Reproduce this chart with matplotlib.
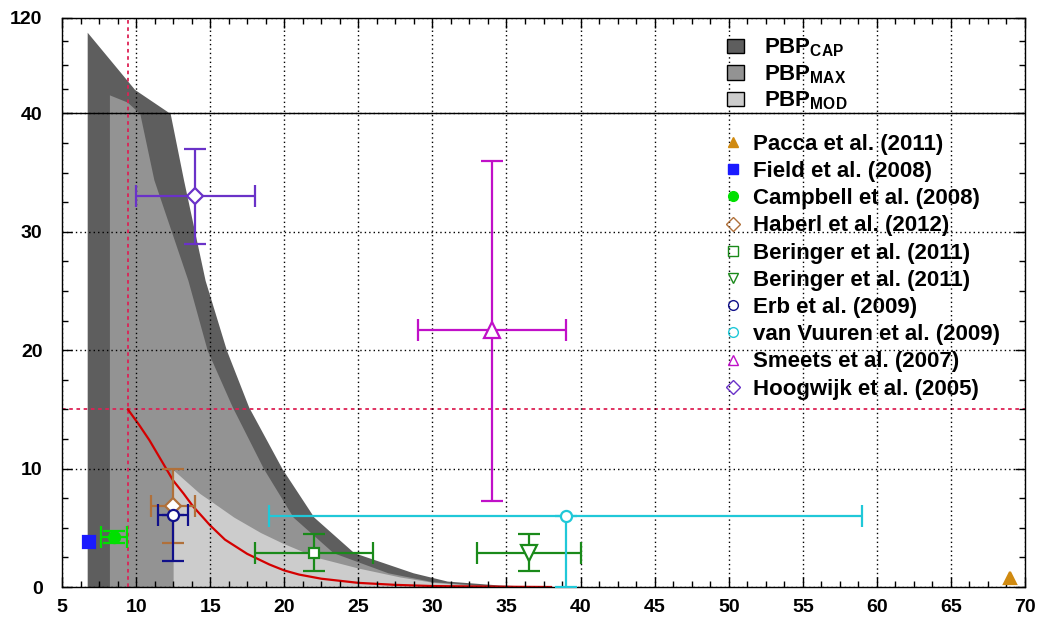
import numpy as np
import matplotlib
matplotlib.use('Agg')
import matplotlib.pyplot as plt
from matplotlib.patches import Patch
from matplotlib.lines import Line2D
from matplotlib.font_manager import FontProperties

plt.rcParams['font.family'] = ['Liberation Sans', 'DejaVu Sans']
plt.rcParams['font.weight'] = 'bold'
plt.rcParams['mathtext.fontset'] = 'custom'
plt.rcParams['mathtext.bf'] = 'Liberation Sans:bold'
plt.rcParams['mathtext.rm'] = 'Liberation Sans:bold'
plt.rcParams['mathtext.it'] = 'Liberation Sans:bold:italic'

# ---------------- data ----------------
# PBP regions (outlines)
cap_x = [6.7, 6.7, 9.9, 12.3, 13.2, 14.66, 16.1, 17.6, 19.85, 22.0, 24.7, 28.7, 31.0, 34.5, 38.5]
cap_y = [0, 107.7, 60, 40, 34.4, 25.9, 20, 15.2, 10, 5.9, 2.9, 1.2, 0.5, 0.17, 0]
max_x = [8.2, 8.2, 9.4, 10.25, 11.2, 13.5, 14.8, 16.5, 18.6, 20.6, 23.3, 27.0, 30.0, 35.0]
max_y = [0, 55.5, 49.5, 40, 34.4, 25.9, 20, 15.2, 10, 5.9, 2.9, 1.2, 0.45, 0]
mod_x = [12.5, 12.5, 14.3, 15.0, 16.6, 18.4, 19.9, 22.2, 25.0, 27.8, 30.0, 34.0]
mod_y = [0, 9.9, 7.9, 7.3, 5.9, 4.6, 3.7, 2.5, 1.6, 0.85, 0.4, 0]

# red curve
red_x = [9.45, 10.2, 10.9, 11.7, 12.5, 13.2, 13.85, 14.5, 15.0, 16.0, 17.5, 19.0,
         20.0, 21.0, 22.5, 25.0, 27.5, 30.0, 35.0, 38.0]
red_y = [15.0, 13.7, 12.4, 10.7, 9.0, 7.9, 6.8, 5.9, 5.2, 4.0, 2.8, 1.9,
         1.4, 1.05, 0.7, 0.35, 0.18, 0.08, 0.02, 0.0]
ref_x = 9.45
ref_y = 15.0

# studies: x, y, xerr(low, high), yerr(low, high)
labels = ['Pacca et al. (2011)', 'Field et al. (2008)', 'Campbell et al. (2008)',
          'Haberl et al. (2012)', 'Beringer et al. (2011)', 'Beringer et al. (2011)',
          'Erb et al. (2009)', 'van Vuuren et al. (2009)', 'Smeets et al. (2007)',
          'Hoogwijk et al. (2005)']
pts_x = [69.0, 6.85, 8.5, 12.5, 22.0, 36.5, 12.5, 39.0, 34.0, 14.0]
pts_y = [0.75, 3.8, 4.2, 6.85, 2.9, 2.9, 6.1, 6.0, 21.7, 33.0]
xerr_lo = [0, 0, 0.9, 1.5, 4.0, 3.5, 1.0, 20.0, 5.0, 4.0]
xerr_hi = [0, 0, 0.9, 1.5, 4.0, 3.5, 1.0, 20.0, 5.0, 4.0]
yerr_lo = [0, 0, 0.5, 3.1, 1.55, 1.55, 3.9, 6.0, 14.4, 4.0]
yerr_hi = [0, 0, 0.5, 3.1, 1.6, 1.6, 0.0, 0.0, 14.3, 4.0]
colors = ['#d08a10', '#1a1aff', '#00e000', '#b0703a', '#1a8a1a', '#1a8a1a',
          '#10108a', '#20c8d8', '#c010c8', '#6a32c8']
markers = ['^', 's', 'o', 'D', 's', 'v', 'o', 'o', '^', 'D']
filled = [True, True, True, False, False, False, False, False, False, False]
msizes = [8.5, 8.5, 8, 8, 7, 11, 8, 8, 12, 8.5]

pbp_labels = [r'$\mathbf{PBP_{CAP}}$', r'$\mathbf{PBP_{MAX}}$', r'$\mathbf{PBP_{MOD}}$']
pbp_colors = ['#5e5e5e', '#939393', '#cccccc']

xticks = [5, 10, 15, 20, 25, 30, 35, 40, 45, 50, 55, 60, 65, 70]
yticks = [0, 10, 20, 30, 40, 120]

# ---------------- scale ----------------
K = 0.1013


def fwd(y):
    y = np.asarray(y, dtype=float)
    return np.where(y <= 40, y, 40 + (y - 40) * K)


def inv(t):
    t = np.asarray(t, dtype=float)
    return np.where(t <= 40, t, 40 + (t - 40) / K)


fig = plt.figure(figsize=(10.4, 6.25), dpi=100)
ax = fig.add_axes([62 / 1040, (625 - 587) / 625, (1025 - 62) / 1040, (587 - 17.5) / 625])
ax.set_yscale('function', functions=(fwd, inv))
ax.set_xlim(5, 70)
ax.set_ylim(0, 120)

# regions
ax.fill_between(cap_x, cap_y, 0, color=pbp_colors[0], lw=0, zorder=1)
ax.fill_between(max_x, max_y, 0, color=pbp_colors[1], lw=0, zorder=1.1)
ax.fill_between(mod_x, mod_y, 0, color=pbp_colors[2], lw=0, zorder=1.2)

# grid
ax.set_xticks(xticks)
ax.set_yticks(yticks)
ax.set_xticks(np.arange(5, 70.01, 1.25), minor=True)
ax.set_yticks(list(np.arange(0, 40.01, 2.5)) + [60, 80, 100], minor=True)
ax.set_axisbelow(False)
ax.grid(True, which='major', color='black', linestyle=(0, (1, 2.2)), linewidth=1.0, zorder=2)
ax.axhline(40, color='black', lw=1.0, zorder=2.2)

# red reference lines
ax.axvline(ref_x, color='#dd2255', lw=1.3, linestyle=(0, (2, 2)), zorder=2.3)
ax.axhline(ref_y, color='#dd2255', lw=1.3, linestyle=(0, (2, 2)), zorder=2.3)
ax.plot(red_x, red_y, color='#d40000', lw=1.6, zorder=2.5)

# studies
for i in range(len(labels)):
    xe = None
    ye = None
    if xerr_lo[i] or xerr_hi[i]:
        xe = [[xerr_lo[i]], [xerr_hi[i]]]
    if yerr_lo[i] or yerr_hi[i]:
        ye = [[yerr_lo[i]], [yerr_hi[i]]]
    mfc = colors[i] if filled[i] else 'white'
    ax.errorbar([pts_x[i]], [pts_y[i]], xerr=xe, yerr=ye, fmt=markers[i],
                color=colors[i], mfc=mfc, mec=colors[i], ms=msizes[i], mew=1.6,
                elinewidth=1.6, capsize=8, capthick=1.6, zorder=4, clip_on=True)

ax.tick_params(which='both', direction='in', top=True, right=True, width=1)
ax.tick_params(which='major', length=7, labelsize=14, pad=9)
ax.tick_params(which='minor', length=4)
ax.tick_params(axis='y', which='major', pad=14)
ax.set_xticklabels([str(v) for v in xticks], fontweight='bold')
ax.set_yticklabels([str(v) for v in yticks], fontweight='bold')
for s in ax.spines.values():
    s.set_linewidth(1.0)

fp = FontProperties(family='Liberation Sans', weight='bold', size=16)

h1 = [Patch(facecolor=c, edgecolor='black', lw=1.0) for c in pbp_colors]
leg1 = ax.legend(h1, pbp_labels, loc='upper left', bbox_to_anchor=(0.6906, 0.966),
                 frameon=False, prop=fp, handlelength=0.77, handleheight=0.63,
                 handletextpad=0.9, labelspacing=0.17, borderpad=0, borderaxespad=0)
ax.add_artist(leg1)

h2 = [Line2D([], [], linestyle='none', marker=markers[i], color=colors[i],
             mfc=(colors[i] if filled[i] else 'none'), mec=colors[i], ms=7, mew=1.0)
      for i in range(len(labels))]
leg2 = ax.legend(h2, labels, loc='upper left', bbox_to_anchor=(0.6906, 0.796),
                 frameon=False, prop=fp, handlelength=0.5, handletextpad=0.65,
                 labelspacing=0.28, borderpad=0, borderaxespad=0)

fig.savefig('out.png', dpi=100)
